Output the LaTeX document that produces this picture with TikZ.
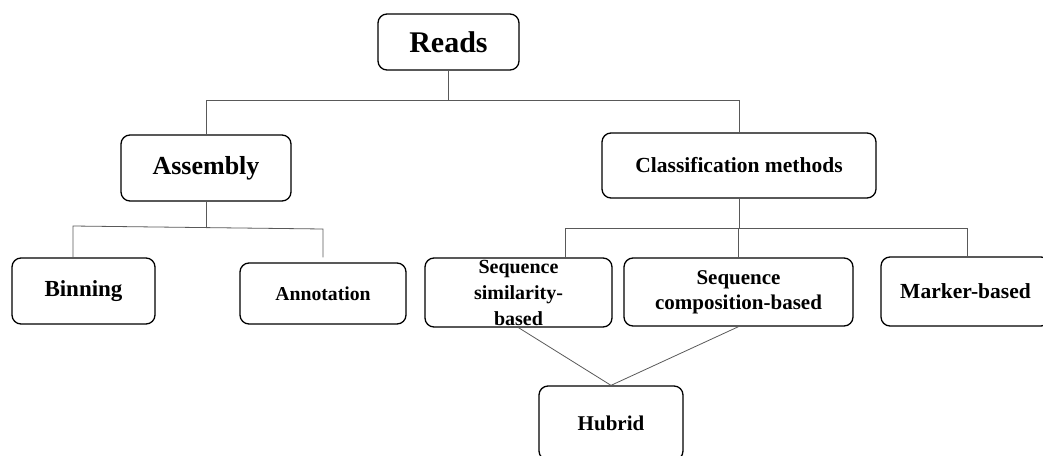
\documentclass[tikz,border=0pt]{standalone}
\usepackage{fontspec}
\setmainfont{Liberation Serif}
\begin{document}
\begin{tikzpicture}[x=1pt,y=-1pt,
  box/.style={draw=black, line width=1.3pt, rounded corners=9pt, inner sep=0pt, align=center, fill=white},
  conn/.style={draw=black!65, line width=0.8pt},
  fs/.style={font=\bfseries\fontsize{#1}{#1}\selectfont}]
\useasboundingbox (0,0) rectangle (1043,455);
\clip (0,0) rectangle (1043,455);
% nodes
\node[box, fs=30, minimum width=141, minimum height=56] (reads) at (448.5,42) {Reads};
\node[box, fs=26, minimum width=170, minimum height=66] (asm) at (206,168) {Assembly};
\node[box, fs=21.5, minimum width=274, minimum height=65] (cls) at (739,165.5) {Classification methods};
\node[box, fs=23, minimum width=143, minimum height=66] (bin) at (83.5,291) {Binning};
\node[box, fs=19.7, minimum width=166, minimum height=61] (ann) at (323,293.5) {Annotation};
\node[box, font=\bfseries\fontsize{20}{26}\selectfont, minimum width=187, minimum height=69] (sim) at (518.5,292.5) {Sequence\\similarity-\\based};
\node[box, font=\bfseries\fontsize{21}{25}\selectfont, minimum width=229, minimum height=68] (comp) at (738.5,292) {Sequence\\composition-based};
\node[box, fs=21.5, minimum width=169, minimum height=69] (mark) at (965.5,291.5) {Marker-based};
\node[box, fs=21, minimum width=144, minimum height=74] (hub) at (611,423) {Hubrid};
% junction coordinates
\coordinate (t) at (450,100);
\coordinate (aj) at (206,227.5);
\coordinate (a1) at (73,226);
\coordinate (a2) at (323,229);
\coordinate (cj) at (739,228);
\coordinate (c1) at (565,228);
\coordinate (c3) at (967,228);
% connectors
\draw[conn] (reads.south) -- (reads.south |- t);
\draw[conn] (asm.north) -- (asm.north |- t) -- (cls.north |- t) -- (cls.north);
\draw[conn] (asm.south) -- (aj);
\draw[conn] (a1 |- bin.north) -- (a1) -- (a2) -- (a2 |- bin.north);
\draw[conn] (cls.south) -- (cj);
\draw[conn] (sim.north -| c1) -- (c1) -- (c3) -- (mark.north -| c3);
\draw[conn] (comp.north) -- (comp.north |- cj);
\draw[conn] (sim.south) -- (hub.north) -- (comp.south);
\end{tikzpicture}
\end{document}
